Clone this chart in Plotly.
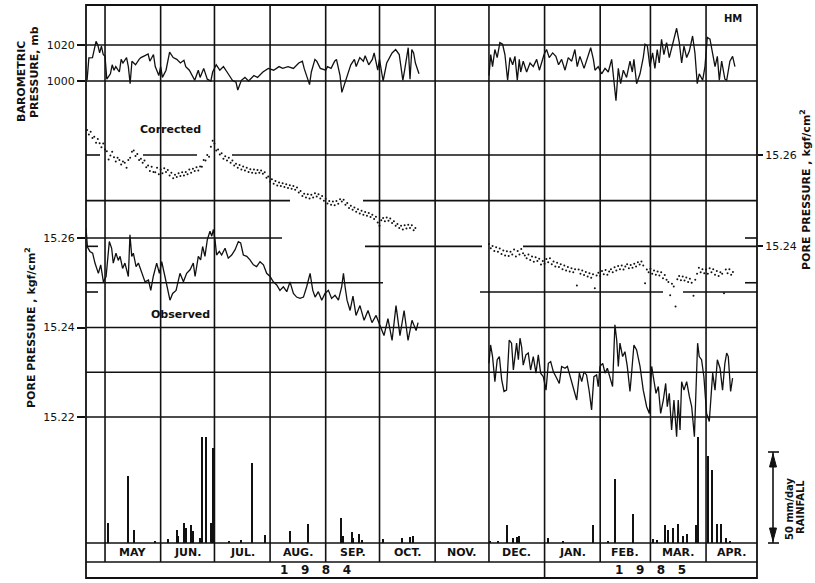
import pandas as pd
import plotly.graph_objects as go

BASE = pd.Timestamp("1984-05-01")

# ---------------- data (x = days after 1 May 1984) ----------------
baro_day_a = [-10, -9, -7, -6, -5, -4, -3, -2, -1, 0, 1, 3, 4, 5, 6, 8, 9, 10, 12, 13, 14, 15, 17, 19, 20, 22, 24, 25,
              27, 28, 30, 31, 32, 34, 36, 38, 40, 42, 44, 45, 47, 50, 52, 53, 55, 57, 59, 60, 62, 64, 66, 68, 71, 73,
              74, 76, 78, 80, 83, 85, 88, 91, 94, 97, 99, 102, 105, 108, 110, 111, 114, 115, 117, 118, 120, 123, 124,
              126, 128, 129, 131, 132, 134, 136, 137, 139, 140, 142, 144, 145, 147, 149, 150, 152, 153, 155, 157,
              160, 162, 164, 166, 167, 169, 170, 171, 172, 173, 175]
baro_a = [1000.4, 1012.8, 1013, 1017.5, 1022, 1020, 1015.6, 1019.4, 1014.7, 1013.7, 1001, 1004, 1009, 1006, 1008,
          1005, 1012, 1010, 1013, 1008, 998.5, 1011, 1009, 1012, 1013, 1014, 1015, 1011, 1014.7, 1008, 1003, 1008,
          1002, 1006, 1016, 1013, 1012, 1010, 1011.5, 1008, 1006, 1000.4, 1006, 1002, 1007, 1001, 1000, 1005, 1009,
          1006, 1008, 1005, 1000.4, 999.4, 995, 1000.4, 1002, 1000, 1003, 1002, 1005, 1007, 1006, 1008, 1007, 1008,
          1007, 1010, 1011, 1007, 998, 1005, 1012, 1011, 1007, 1006, 1008, 1007, 1011, 1012, 1003, 993.7, 999.4,
          1005, 1009, 1012, 1008, 1013, 1011, 1014, 1009, 1012, 1015.6, 1006, 1012, 1000, 1010, 1015.6, 1017.5,
          1014.7, 1000.4, 1006, 1018.5, 1001, 1017.5, 1015.6, 1010, 1004]

baro_day_b = [214, 215, 216, 217.3, 218.6, 220.1, 221.6, 222.9, 224.4, 225.7, 227.2, 228.5, 229.8, 230.9, 231.7,
              233.1, 235, 236.9, 238.7, 240.6, 242.1, 243.4, 244.7, 246.1, 247.6, 249.5, 251.3, 252.8, 254.5, 256.4,
              258.2, 260.1, 261.9, 263.2, 264.7, 267, 268.8, 270.7, 272.2, 273.1, 274.9, 276.8, 278.7, 280.5, 282.4,
              283.7, 284.8, 286.1, 287.4, 288.9, 290.7, 292.6, 293.9, 294.8, 296.3, 298.2, 300, 301, 302.3, 303.7,
              305.2, 306.5, 307.8, 308.9, 310.2, 311.5, 313, 314.5, 316.7, 318.6, 320.1, 321.4, 322.7, 324.2, 325.7,
              327.5, 328.8, 330.1, 331.2, 333.1, 334.4, 335.7, 337.2, 338.7, 340, 341.3, 342.4, 343.7, 345.5, 346.5,
              348.3, 349.8, 351.1]
baro_b = [1003, 1014.7, 1008, 1017.5, 1013, 1021.3, 1020.4, 1014.7, 1000.4, 1013, 1009, 1013.7, 1000.4, 1012, 1005,
          1011, 1005, 1010, 1008, 1012, 1006, 1010, 1014.7, 1017.5, 1013, 1015.6, 1013.7, 1009, 1012, 1006, 1013,
          1011, 1017.5, 1008, 1013.7, 1007, 1013, 1018.5, 1012, 1006, 1008, 1004, 1007, 1005, 1012, 1001, 989, 1007,
          998.5, 1006, 1002, 1011, 1005, 1012, 998.5, 1004, 1013, 1020.4, 1019.4, 1008, 1015.6, 1007, 1017.5, 1010,
          1023.2, 1014.7, 1021.3, 1013, 1021.3, 1029.3, 1021.3, 1010, 1019.4, 1013, 1016.6, 1025, 1015.6, 998.5,
          1004, 1000.4, 1008, 1024.2, 1023.2, 1013.7, 1008, 1013.7, 1000.4, 1011, 1001, 1000.4, 1011, 1013.7, 1008]

obs_day_a = [-10.6, -9.8, -8.4, -6.9, -5.6, -3.7, -2.4, -0.9, 0.6, 2.4, 3.7, 4.6, 6.1, 7.4, 8.4, 9.8, 11.1, 13.0,
             13.9, 14.9, 15.8, 17.3, 18.6, 20.4, 22.3, 24.2, 25.5, 26.9, 28.8, 30.3, 31.6, 33.4, 34.7, 36.2, 37.7,
             39.6, 41.8, 43.7, 45.5, 47.4, 49.2, 50.2, 52.0, 53.3, 54.4, 55.7, 57.0, 58.5, 59.5, 60.4, 61.3, 62.2,
             63.7, 65.0, 66.9, 68.7, 70.6, 72.5, 74.3, 75.6, 77.1, 79.0, 80.8, 82.7, 84.5, 86.4, 88.3, 90.1, 92.0,
             93.8, 95.7, 97.5, 99.4, 101.3, 103.1, 105.0, 106.8, 108.7, 110.6, 112.4, 114.3, 115.8, 117.1, 118.9,
             120.8, 122.6, 124.5, 126.3, 128.2, 130.1, 131.9, 132.9, 133.8, 134.9, 136.6, 138.2, 139.9, 142.1,
             144.4, 146.6, 148.8, 151.1, 153.3, 155.5, 157.7, 160.0, 162.2, 164.4, 166.7, 168.9, 171.1, 173.4, 174.5]
obs_a = [15.2623, 15.2580, 15.2570, 15.2566, 15.2544, 15.2521, 15.2540, 15.2502, 15.2514, 15.2592, 15.2577, 15.2544,
         15.2566, 15.2550, 15.2559, 15.2532, 15.2544, 15.2514, 15.2607, 15.2559, 15.2566, 15.2536, 15.2544, 15.2521,
         15.2502, 15.2506, 15.2483, 15.2514, 15.2544, 15.2521, 15.2547, 15.2514, 15.2491, 15.2461, 15.2476, 15.2483,
         15.2521, 15.2502, 15.2521, 15.2529, 15.2544, 15.2514, 15.2559, 15.2551, 15.2581, 15.2559, 15.2596, 15.2615,
         15.2604, 15.2619, 15.2596, 15.2562, 15.2570, 15.2562, 15.2577, 15.2555, 15.2562, 15.2574, 15.2592, 15.2589,
         15.2562, 15.2559, 15.2551, 15.2540, 15.2536, 15.2547, 15.2540, 15.2521, 15.2514, 15.2502, 15.2495, 15.2483,
         15.2491, 15.2480, 15.2502, 15.2476, 15.2468, 15.2465, 15.2468, 15.2491, 15.2521, 15.2483, 15.2468, 15.2480,
         15.2461, 15.2476, 15.2483, 15.2465, 15.2472, 15.2461, 15.2491, 15.2521, 15.2491, 15.2461, 15.2438, 15.2470,
         15.2427, 15.2449, 15.2416, 15.2438, 15.2411, 15.2427, 15.2404, 15.2382, 15.2420, 15.2371, 15.2449, 15.2382,
         15.2438, 15.2371, 15.2416, 15.2393, 15.2411]

obs_day_b = [214.0, 214.9, 216.0, 217.3, 218.6, 219.8, 221.1, 222.4, 223.8, 225.3, 226.6, 227.6, 228.5, 229.4, 230.4,
             231.3, 232.2, 233.1, 234.6, 235.9, 237.2, 238.7, 240.2, 241.5, 242.8, 244.3, 245.8, 247.1, 248.4, 249.9,
             251.7, 253.2, 254.5, 256.4, 257.7, 259.2, 261.0, 262.9, 264.4, 265.7, 267.0, 268.4, 269.9, 271.2, 272.5,
             274.0, 274.9, 275.9, 277.4, 278.7, 280.0, 281.4, 282.9, 284.2, 285.2, 286.1, 287.0, 288.5, 289.8, 291.1,
             292.6, 293.5, 294.8, 296.3, 298.2, 300.0, 301.9, 303.4, 304.7, 305.6, 307.1, 308.4, 309.7, 311.2, 312.5,
             313.4, 314.5, 315.8, 317.1, 318.6, 319.5, 320.5, 321.4, 322.7, 324.2, 325.7, 327.0, 328.5, 329.4, 330.3,
             331.2, 332.5, 333.8, 335.3, 336.8, 337.6, 338.7, 340.0, 341.3, 342.8, 344.2, 345.5, 346.5, 347.4, 348.7,
             349.8]
obs_b = [15.2320, 15.2361, 15.2335, 15.2279, 15.2328, 15.2335, 15.2283, 15.2257, 15.2260, 15.2372, 15.2365, 15.2305,
         15.2335, 15.2365, 15.2328, 15.2376, 15.2357, 15.2316, 15.2339, 15.2343, 15.2305, 15.2335, 15.2298, 15.2339,
         15.2298, 15.2290, 15.2260, 15.2320, 15.2324, 15.2301, 15.2287, 15.2275, 15.2313, 15.2309, 15.2313, 15.2290,
         15.2268, 15.2238, 15.2298, 15.2279, 15.2301, 15.2294, 15.2257, 15.2216, 15.2290, 15.2294, 15.2268, 15.2313,
         15.2320, 15.2298, 15.2309, 15.2290, 15.2268, 15.2406, 15.2372, 15.2313, 15.2365, 15.2335, 15.2346, 15.2313,
         15.2257, 15.2298, 15.2361, 15.2350, 15.2313, 15.2260, 15.2223, 15.2208, 15.2313, 15.2290, 15.2253, 15.2268,
         15.2208, 15.2238, 15.2275, 15.2223, 15.2253, 15.2171, 15.2238, 15.2156, 15.2238, 15.2171, 15.2279, 15.2260,
         15.2279, 15.2246, 15.2223, 15.2156, 15.2268, 15.2365, 15.2335, 15.2328, 15.2290, 15.2208, 15.2190, 15.2238,
         15.2298, 15.2260, 15.2328, 15.2309, 15.2260, 15.2320, 15.2343, 15.2335, 15.2257, 15.2287]

corr_start_a = -10
corr_a = [15.2655, 15.2645, 15.2651, 15.2637, 15.2640, 15.2627, 15.2635, 15.2626, 15.2617, 15.2625,
          15.2612, 15.2608, 15.2590, 15.2599, 15.2607, 15.2595, 15.2586, 15.2594, 15.2589, 15.2579,
          15.2586, 15.2583, 15.2572, 15.2589, 15.2594, 15.2607, 15.2610, 15.2598, 15.2602, 15.2589,
          15.2592, 15.2583, 15.2588, 15.2573, 15.2577, 15.2565, 15.2574, 15.2563, 15.2562, 15.2572,
          15.2558, 15.2568, 15.2560, 15.2571, 15.2563, 15.2567, 15.2555, 15.2561, 15.2549, 15.2557,
          15.2552, 15.2560, 15.2554, 15.2562, 15.2555, 15.2563, 15.2558, 15.2568, 15.2561, 15.2570,
          15.2565, 15.2573, 15.2566, 15.2575, 15.2574, 15.2589, 15.2588, 15.2600, 15.2596, 15.2618,
          15.2631, 15.2625, 15.2610, 15.2612, 15.2601, 15.2604, 15.2592, 15.2597, 15.2588, 15.2594,
          15.2583, 15.2588, 15.2577, 15.2581, 15.2572, 15.2578, 15.2568, 15.2575, 15.2566, 15.2572,
          15.2563, 15.2569, 15.2561, 15.2568, 15.2560, 15.2567, 15.2561, 15.2566, 15.2559, 15.2562,
          15.2550, 15.2553, 15.2542, 15.2547, 15.2537, 15.2543, 15.2533, 15.2540, 15.2532, 15.2538,
          15.2530, 15.2536, 15.2528, 15.2534, 15.2526, 15.2532, 15.2524, 15.2529, 15.2518, 15.2521,
          15.2510, 15.2515, 15.2507, 15.2514, 15.2505, 15.2513, 15.2507, 15.2516, 15.2509, 15.2514,
          15.2505, 15.2510, 15.2500, 15.2504, 15.2494, 15.2499, 15.2491, 15.2498, 15.2490, 15.2499,
          15.2493, 15.2503, 15.2498, 15.2502, 15.2491, 15.2495, 15.2484, 15.2489, 15.2480, 15.2485,
          15.2476, 15.2481, 15.2472, 15.2478, 15.2469, 15.2475, 15.2467, 15.2473, 15.2464, 15.2469,
          15.2460, 15.2465, 15.2452, 15.2445, 15.2457, 15.2462, 15.2455, 15.2463, 15.2456, 15.2461,
          15.2451, 15.2455, 15.2445, 15.2449, 15.2440, 15.2445, 15.2437, 15.2446, 15.2439, 15.2447,
          15.2440, 15.2446, 15.2435, 15.2440]

corr_start_b = 214
corr_b = [15.2405, 15.2396, 15.2401, 15.2390, 15.2398, 15.2388, 15.2395, 15.2383, 15.2391, 15.2380,
          15.2389, 15.2379, 15.2388, 15.2382, 15.2393, 15.2378, 15.2390, 15.2382, 15.2394, 15.2385,
          15.2380, 15.2374, 15.2382, 15.2370, 15.2378, 15.2366, 15.2376, 15.2368, 15.2373, 15.2360,
          15.2368, 15.2362, 15.2372, 15.2365, 15.2374, 15.2361, 15.2367, 15.2356, 15.2364, 15.2355,
          15.2361, 15.2350, 15.2358, 15.2347, 15.2355, 15.2345, 15.2352, 15.2343, 15.2350, 15.2314,
          15.2349, 15.2340, 15.2347, 15.2337, 15.2344, 15.2334, 15.2341, 15.2331, 15.2339, 15.2308,
          15.2336, 15.2342, 15.2335, 15.2346, 15.2339, 15.2348, 15.2338, 15.2345, 15.2350, 15.2343,
          15.2354, 15.2347, 15.2357, 15.2350, 15.2358, 15.2349, 15.2356, 15.2361, 15.2352, 15.2359,
          15.2353, 15.2362, 15.2356, 15.2365, 15.2360, 15.2367, 15.2358, 15.2319, 15.2349, 15.2343,
          15.2351, 15.2340, 15.2347, 15.2338, 15.2345, 15.2336, 15.2343, 15.2330, 15.2337, 15.2327,
          15.2322, 15.2293, 15.2318, 15.2312, 15.2268, 15.2328, 15.2335, 15.2326, 15.2334, 15.2325,
          15.2332, 15.2322, 15.2329, 15.2320, 15.2292, 15.2327, 15.2340, 15.2353, 15.2343, 15.2350,
          15.2341, 15.2349, 15.2340, 15.2352, 15.2343, 15.2350, 15.2338, 15.2346, 15.2335, 15.2343,
          15.2340, 15.2297, 15.2349, 15.2341, 15.2350, 15.2338, 15.2344]

rain_day = [2, 13, 16, 28, 35, 40, 41, 44, 45, 48, 49, 53, 54, 56.5, 59, 60, 69, 76, 82, 89, 103, 113,
            131.5, 132.7, 137.5, 138.2, 141.6, 143.1, 155, 165.4, 170, 171.5,
            214.6, 219, 224.3, 227.6, 229.5, 231, 246.8, 255.5, 271.8, 280.2, 284.3, 294.1, 305.6, 307.8, 312.2, 314,
            316.8, 319.6, 322.4, 324.2, 329.4, 330.7, 336, 338.5, 341.3, 343.4, 346.2, 348.4]
rain_mm = [11, 37, 7, 1, 2, 7, 4, 11, 8.5, 10, 6.7, 3, 58, 58, 11, 52, 1, 1.5, 44, 4.4, 6.4, 10.4,
           13.6, 4, 5.8, 3, 5, 1.6, 2.2, 3, 3.5, 4,
           1, 1.3, 9.8, 3, 3.5, 3.6, 2.7, 1.3, 9.8, 0.7, 35, 16, 2.2, 1.5, 9.8, 7,
           8.2, 10.7, 4, 5, 9.8, 58, 48, 40, 10.4, 10.4, 3, 1]

month_start = [0, 31, 61, 92, 123, 153, 184, 214, 245, 276, 304, 335]
month_names = ["MAY", "JUN.", "JUL.", "AUG.", "SEP.", "OCT.", "NOV.", "DEC.", "JAN.", "FEB.", "MAR.", "APR."]
years = ["1   9   8   4", "1   9   8   5"]

# ---------------- helpers ----------------
X0, X1 = -10.6, 363.4
PL, PR, PT, PB = 86, 757, 5, 578
W, H = 815, 583


def dt(days):
    return [BASE + pd.Timedelta(days=float(d)) for d in days]


def px(xp):
    return (xp - PL) / (PR - PL)


def py(yp):
    return (PB - yp) / (PB - PT)


INK = "#111111"
FONT = "DejaVu Sans"

fig = go.Figure()

for d, v in ((baro_day_a, baro_a), (baro_day_b, baro_b)):
    fig.add_trace(go.Scatter(x=dt(d), y=v, mode="lines", line=dict(color=INK, width=1.3), yaxis="y", showlegend=False))
for d, v in ((obs_day_a, obs_a), (obs_day_b, obs_b)):
    fig.add_trace(go.Scatter(x=dt(d), y=v, mode="lines", line=dict(color=INK, width=1.3), yaxis="y2", showlegend=False))
for s, v in ((corr_start_a, corr_a), (corr_start_b, corr_b)):
    fig.add_trace(go.Scatter(x=dt([s + i for i in range(len(v))]), y=v, mode="markers",
                             marker=dict(color=INK, size=2), yaxis="y3", showlegend=False))
fig.add_trace(go.Bar(x=dt(rain_day), y=rain_mm, width=0.7 * 86400000, marker=dict(color=INK, line=dict(width=0)),
                     yaxis="y4", showlegend=False))

shapes = []
LW = 1.6


def line(x0, y0, x1, y1, xref="paper", yref="paper", w=LW):
    shapes.append(dict(type="line", x0=x0, y0=y0, x1=x1, y1=y1, xref=xref, yref=yref,
                       line=dict(color=INK, width=w), layer="above"))


shapes.append(dict(type="rect", x0=0, y0=0, x1=1, y1=1, xref="paper", yref="paper",
                   line=dict(color=INK, width=1.8), layer="above"))
row1, row2 = py(543), py(562)
for m in month_start:
    bottom = 0 if m == 245 else row2
    line(dt([m])[0], bottom, dt([m])[0], 1, xref="x")
line(0, row1, 1, row1)
line(0, row2, 1, row2)

for v in (1000, 1020):
    line(0, v, 1, v, yref="y")


def hseg(yref, v, a, b, w=LW):
    line(px(a), v, px(b), v, yref=yref, w=w)


for a, b in ((86, 100), (143, 197), (232, 757)):
    hseg("y3", 15.26, a, b)
for a, b in ((86, 290), (363, 757)):
    hseg("y3", 15.25, a, b)
for a, b in ((86, 98), (365, 482), (523, 757)):
    hseg("y3", 15.24, a, b)
for a, b in ((86, 98), (480, 663), (683, 757)):
    hseg("y3", 15.23, a, b)
hseg("y2", 15.26, 86, 282)
hseg("y2", 15.26, 745, 757)
hseg("y2", 15.25, 86, 383)
hseg("y2", 15.25, 745, 757)
for v in (15.24, 15.23, 15.22):
    hseg("y2", v, 86, 757)

# rainfall scale bar with arrow heads
line(px(773), py(452), px(773), py(543))
line(px(768), py(452), px(779), py(452))
line(px(768), py(543), px(779), py(543))
for tip, base in ((454, 467), (541, 528)):
    shapes.append(dict(type="path", xref="paper", yref="paper",
                       path=f"M {px(773)} {py(tip)} L {px(769.5)} {py(base)} L {px(776.5)} {py(base)} Z",
                       fillcolor=INK, line=dict(color=INK, width=1)))

ann = []


def text(t, x, y, size=11, angle=0, bold=True, align="center"):
    ann.append(dict(text=f"<b>{t}</b>" if bold else t, x=px(x), y=py(y), xref="paper", yref="paper",
                    showarrow=False, textangle=angle, xanchor="center", yanchor="middle", align=align,
                    font=dict(family=FONT, size=size, color=INK)))


for i, m in enumerate(month_start):
    end = month_start[i + 1] if i + 1 < len(month_start) else X1
    c = (m + end) / 2
    ann.append(dict(text=f"<b>{month_names[i]}</b>", x=dt([c])[0], y=(row1 + row2) / 2, xref="x", yref="paper",
                    showarrow=False, xanchor="center", yanchor="middle",
                    font=dict(family=FONT, size=11, color=INK)))
for yr, c in zip(years, ((X0 + 245) / 2, (245 + X1) / 2)):
    ann.append(dict(text=f"<b>{yr}</b>", x=dt([c])[0], y=row2 / 2, xref="x", yref="paper",
                    showarrow=False, xanchor="center", yanchor="middle",
                    font=dict(family=FONT, size=12, color=INK)))

text("BAROMETRIC", 21, 82, 11, -90)
text("PRESSURE, mb", 34, 72, 11, -90)
text("PORE PRESSURE , kgf/cm<sup>2</sup>", 30, 327, 11, -90)
text("PORE PRESSURE , kgf/cm<sup>2</sup>", 805, 190, 11, -90)
text("50 mm/day", 789, 509, 10, -90)
text("RAINFALL", 800, 507, 10, -90)
text("HM", 733, 18, 10)
text("Corrected", 170, 129, 11)
text("Observed", 180, 315, 11)

tickfont = dict(family=FONT, size=11, color=INK)
common = dict(showgrid=False, zeroline=False, showline=False, ticks="outside", tickcolor=INK, tickwidth=1.5,
              tickfont=tickfont, fixedrange=True)


def rng(v_top, y_top, v_bot, y_bot):
    k = (v_top - v_bot) / (y_bot - y_top)
    return [v_bot - (PB - y_bot) * k, v_top + (y_top - PT) * k]


fig.update_layout(
    width=W, height=H, margin=dict(l=PL, r=W - PR, t=PT, b=H - PB),
    paper_bgcolor="white", plot_bgcolor="white", bargap=0, hovermode=False,
    xaxis=dict(type="date", range=dt([X0, X1]), showgrid=False, zeroline=False, showticklabels=False,
               ticks="", showline=False, fixedrange=True),
    yaxis=dict(range=rng(1020, 45, 1000, 81), tickvals=[1000, 1020], ticktext=["1000", "1020"],
               ticklen=8, side="left", **common),
    yaxis2=dict(range=rng(15.26, 238, 15.22, 417), tickvals=[15.22, 15.24, 15.26],
                ticktext=["15.22", "15.24", "15.26"], ticklen=8, overlaying="y", side="left", anchor="x", **common),
    yaxis3=dict(range=rng(15.26, 155, 15.23, 292), tickvals=[15.24, 15.26], ticktext=["15.24", "15.26"],
                ticklen=5, overlaying="y", side="right", anchor="x", **common),
    yaxis4=dict(range=rng(50, 452, 0, 543), overlaying="y", side="right", anchor="x", showticklabels=False,
                showgrid=False, zeroline=False, showline=False, ticks="", fixedrange=True),
    shapes=shapes, annotations=ann,
)

fig.write_html("out.html", config={"displayModeBar": False},
               post_script="document.body.style.margin='0';document.body.style.overflow='hidden';")
